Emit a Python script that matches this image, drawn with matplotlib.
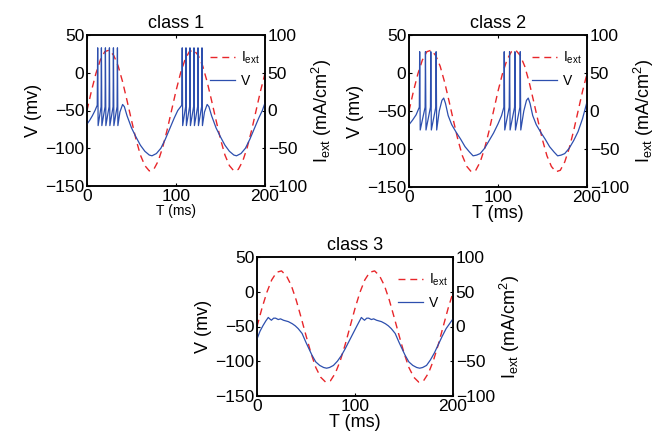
import matplotlib
matplotlib.use("Agg")
import matplotlib.pyplot as plt

plt.rcParams['font.family'] = ['Liberation Sans', 'DejaVu Sans']
plt.rcParams['mathtext.fontset'] = 'custom'
plt.rcParams['mathtext.rm'] = 'Liberation Sans'
plt.rcParams['mathtext.it'] = 'Liberation Sans'
plt.rcParams['mathtext.default'] = 'regular'

t_I = [0, 5, 10, 15, 20, 25, 30, 35, 40, 45, 50, 55, 60, 65, 70, 75, 80, 85, 90, 95,
       100, 105, 110, 115, 120, 125, 130, 135, 140, 145, 150, 155, 160, 165, 170, 175,
       180, 185, 190, 195, 200]
I_ext = [0, 26, 49, 67, 78, 80, 73, 59, 38, 13, -13, -38, -59, -73, -80, -78, -67, -49, -26, 0,
         26, 49, 67, 78, 80, 73, 59, 38, 13, -13, -38, -59, -73, -80, -78, -67,
         -49, -26, 0, 26, 49]

# classe 1
t_c1 = [0, 3, 6, 9, 11.5, 12, 12.5, 15.8, 16.2, 16.7, 20.3, 20.7, 21.2, 24.8, 25.2, 25.7,
        29.3, 29.7, 30.2, 33.8, 34.2, 34.7, 37, 40, 42, 45, 50, 55, 60, 65, 70, 73, 78, 83,
        88, 93, 98, 102, 106.5, 107, 107.5, 110.8, 111.2, 111.7, 115.3, 115.7, 116.2,
        119.8, 120.2, 120.7, 124.3, 124.7, 125.2, 128.8, 129.2, 129.7, 132, 135, 137, 140,
        145, 150, 155, 160, 165, 168, 173, 178, 183, 188, 193, 197, 200]
V_c1 = [-68, -63, -57, -50, -43, 33, -70, -45, 33, -70, -45, 33, -70, -45, 33, -70,
        -45, 33, -70, -45, 33, -70, -52, -42, -45, -57, -73, -85, -96, -104, -109, -110, -107, -100,
        -88, -74, -60, -50, -43, 33, -70, -45, 33, -70, -45, 33, -70,
        -45, 33, -70, -45, 33, -70, -45, 33, -70, -52, -42, -45, -57,
        -73, -85, -96, -104, -109, -110, -107, -100, -88, -74, -60, -50, -40]

# classe 2
t_c2 = [0, 4, 8, 11.6, 12, 12.6, 18.1, 18.5, 19.1, 24.1, 24.5, 25.1, 30.1, 30.5, 31.1,
        34, 37, 39, 41, 44, 48, 53, 58, 63, 68, 72, 76, 80, 85, 90, 95, 100, 104,
        106.6, 107, 107.6, 112.6, 113, 113.6, 118.6, 119, 119.6, 124.6, 125, 125.6,
        129, 132, 134, 136, 139, 143, 148, 153, 158, 163, 167, 171, 175, 180, 185, 190,
        195, 200]
V_c2 = [-68, -62, -55, -45, 28, -75, -45, 28, -75, -45, 28, -75, -45, 28, -75,
        -50, -36, -33, -40, -56, -68, -78, -87, -97, -104, -109, -108, -106, -99, -89, -79, -67, -56,
        -45, 28, -75, -45, 28, -75, -45, 28, -75, -45, 28, -75,
        -50, -36, -33, -40, -56, -68, -78, -87, -97, -104, -109, -108, -106, -99, -89, -77,
        -60, -38]

# classe 3
t_c3 = [0, 3, 6, 9, 11.5, 13, 14.7, 17, 19, 21.7, 24, 27, 32, 36, 39, 42, 46, 50, 53, 56,
        60, 64, 68, 71, 74, 78, 82, 86, 90, 94, 98, 102, 105, 106.5, 108, 109.7, 112, 114,
        116.7, 119, 122, 127, 131, 134, 137, 141, 145, 148, 151, 155, 159, 163, 166, 169,
        173, 177, 181, 185, 189, 193, 197, 200]
V_c3 = [-68, -57, -49, -42, -37, -39, -41, -38, -38, -40, -39, -41, -43, -46, -49, -53, -60, -73, -82, -91,
        -101, -106, -109, -110, -109, -106, -100, -92, -82, -71, -60, -49, -41, -37, -39, -41, -38, -38,
        -40, -39, -41, -43, -46, -49, -53, -60, -73, -82, -91, -101, -106, -109, -110, -109,
        -106, -98, -88, -76, -64, -53, -45, -39]

pannelli = [
    ("class 1", t_c1, V_c1, [87, 35, 265, 186], 10),
    ("class 2", t_c2, V_c2, [409, 35, 587, 187], 13),
    ("class 3", t_c3, V_c3, [257, 257, 453, 396], 13),
]

W, H = 665, 442
fig = plt.figure(figsize=(W / 100, H / 100), dpi=100)
rosso = '#e8262a'
blu = '#2d4fae'

for titolo, t, V, (x0, y0, x1, y1), fs_x in pannelli:
    ax = fig.add_axes([x0 / W, 1 - y1 / H, (x1 - x0) / W, (y1 - y0) / H])
    ax2 = ax.twinx()
    ax.patch.set_visible(False)
    ax.set_zorder(ax2.get_zorder() + 1)
    l1, = ax2.plot(t_I, I_ext, '--', color=rosso, lw=1.0, dashes=(5, 3.5))
    l2, = ax.plot(t, V, '-', color=blu, lw=0.9)
    ax.set_xlim(0, 200)
    ax.set_ylim(-150, 50)
    ax2.set_ylim(-100, 100)
    ax.set_xticks([0, 100, 200])
    ax.set_yticks([-150, -100, -50, 0, 50])
    ax2.set_yticks([-100, -50, 0, 50, 100])
    ax.set_yticklabels(['\u2212150', '\u2212100', '\u221250', '0', '50'])
    ax2.set_yticklabels(['\u2212100', '\u221250', '0', '50', '100'])
    ax.tick_params(direction='in', length=2.5, labelsize=12.5, pad=2, top=True)
    ax2.tick_params(direction='in', length=2.5, labelsize=12.5, pad=2)
    for a in (ax, ax2):
        for s in a.spines.values():
            s.set_linewidth(1.1)
    ax.set_title(titolo, fontsize=13, pad=5)
    ax.set_xlabel('T (ms)', fontsize=fs_x, labelpad=0)
    ax.set_ylabel('V (mv)', fontsize=13, labelpad=2)
    ax2.set_ylabel('I$_{ext}$ (mA/cm$^2$)', fontsize=13, labelpad=2)
    top_off = 9.5 / (y1 - y0)
    ax.legend([l1, l2], ['I$_{ext}$', 'V'], loc='upper right', bbox_to_anchor=(1.0, 1 - top_off),
              frameon=False, fontsize=10, handlelength=1.8, labelspacing=0.55,
              borderaxespad=0, handletextpad=0.4)

fig.savefig('out.png', dpi=100)
